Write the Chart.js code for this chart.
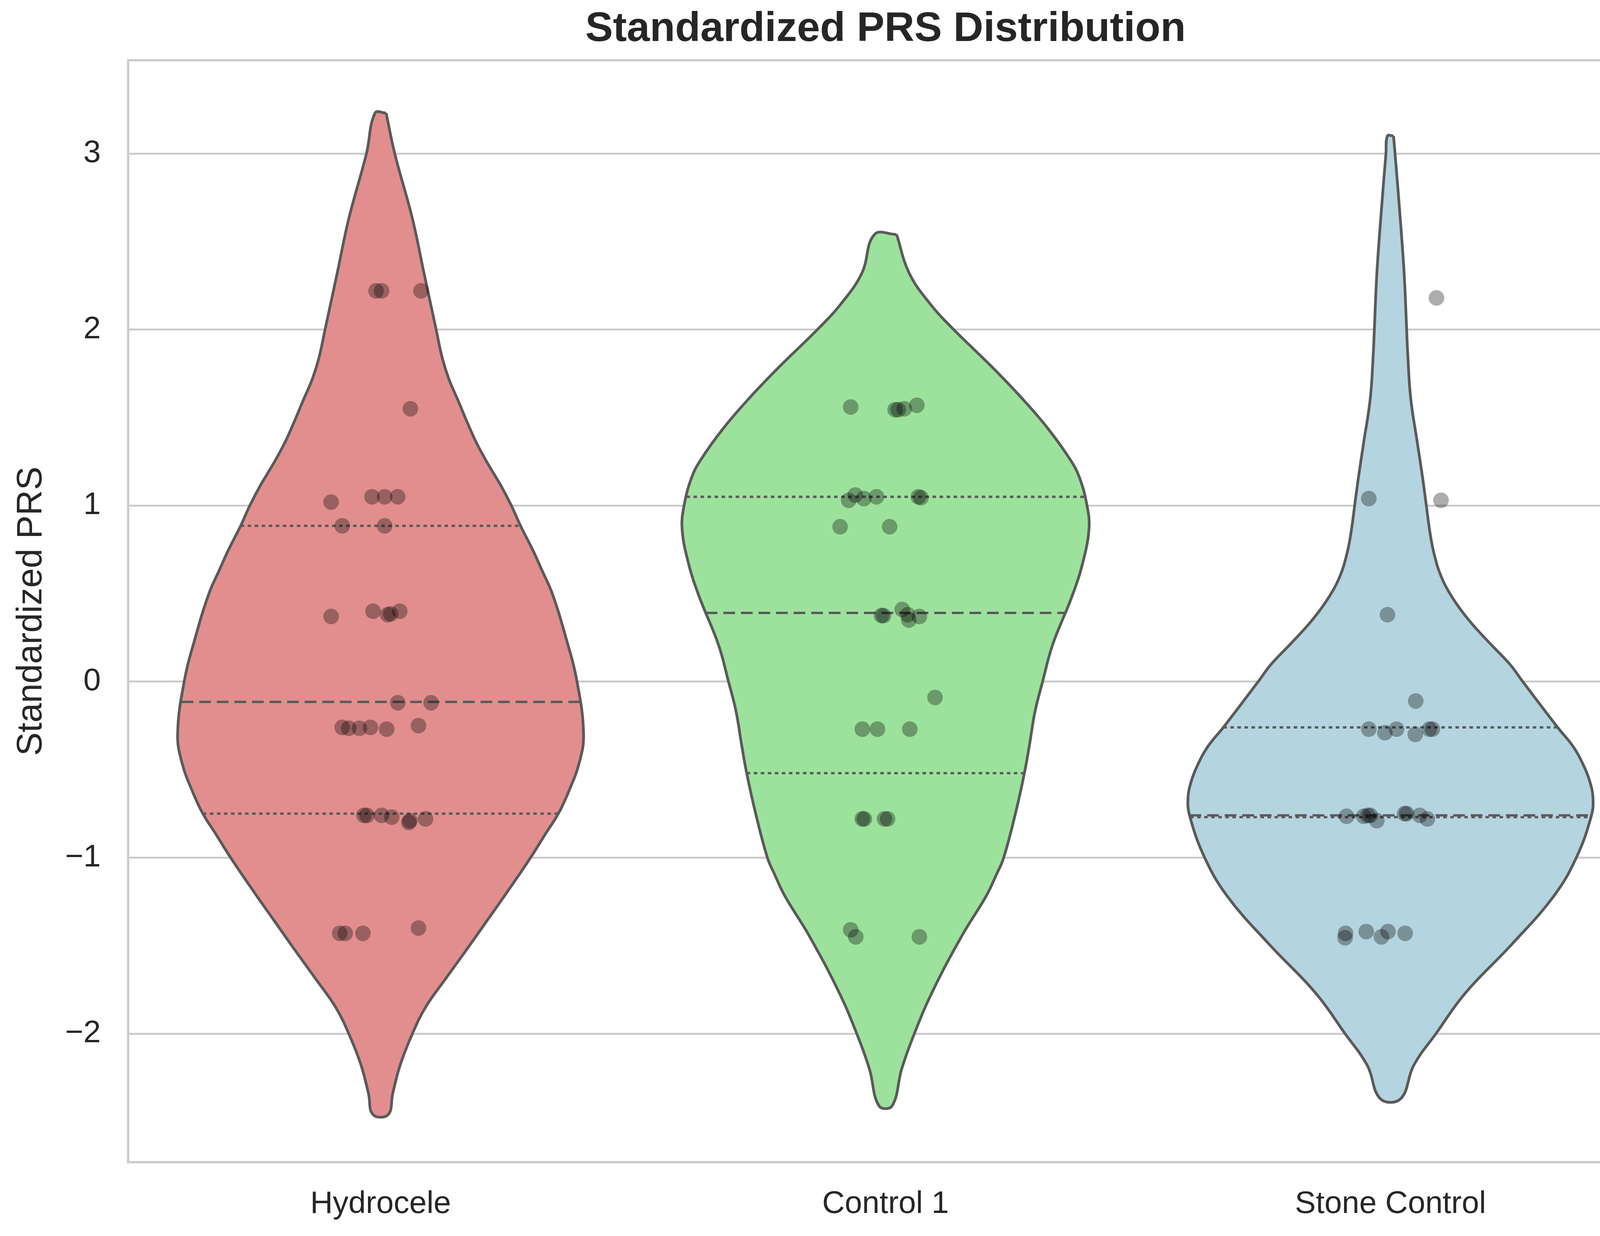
<!DOCTYPE html>
<html>
<head>
<meta charset="utf-8">
<script src="https://cdn.jsdelivr.net/npm/chart.js@4.4.1/dist/chart.umd.min.js"></script>
<style>
    html, body { margin: 0; padding: 0; background: #ffffff; }
    canvas { display: block; }
</style>
</head>
<body>
<canvas id="violinChart" width="4246" height="3164"></canvas>
<script>

// =========================================
// Data
// =========================================

const categories = ["Hydrocele", "Control 1", "Stone Control"];

const yTicks = [-2, -1, 0, 1, 2, 3];
const yTickLabels = ["\u22122", "\u22121", "0", "1", "2", "3"];

// violin outline: y level -> half width (category units)
const hydroceleLevels = [3.23, 3.0, 2.63, 2.32, 2.0, 1.84, 1.72, 1.60, 1.47, 1.35, 1.23, 1.11, 1.0, 0.88, 0.75, 0.63, 0.5, 0.25, 0.0, -0.30, -0.465, -0.628, -0.75, -0.872, -1.0, -1.198, -1.361, -1.524, -1.687, -1.85, -2.0, -2.176, -2.34, -2.46];
const hydroceleWidths = [0.011, 0.028, 0.063, 0.086, 0.110, 0.122, 0.135, 0.153, 0.172, 0.191, 0.214, 0.239, 0.259, 0.278, 0.301, 0.320, 0.340, 0.367, 0.389, 0.402, 0.393, 0.372, 0.352, 0.325, 0.297, 0.250, 0.210, 0.170, 0.129, 0.089, 0.063, 0.039, 0.024, 0.015];

const controlLevels = [2.54, 2.32, 2.14, 2.0, 1.79, 1.61, 1.44, 1.26, 1.16, 1.0, 0.87, 0.68, 0.49, 0.21, 0.0, -0.17, -0.36, -0.52, -0.74, -1.0, -1.1, -1.22, -1.44, -1.76, -2.0, -2.2, -2.41];
const controlWidths = [0.022, 0.047, 0.090, 0.135, 0.210, 0.270, 0.321, 0.366, 0.384, 0.399, 0.403, 0.391, 0.370, 0.331, 0.311, 0.296, 0.285, 0.275, 0.258, 0.234, 0.219, 0.199, 0.152, 0.093, 0.057, 0.032, 0.013];

const stoneLevels = [3.10, 3.0, 2.68, 2.32, 2.0, 1.87, 1.61, 1.36, 1.17, 1.0, 0.85, 0.73, 0.60, 0.48, 0.35, 0.22, 0.10, 0.0, -0.26, -0.37, -0.48, -0.57, -0.66, -0.76, -1.0, -1.22, -1.49, -1.77, -2.0, -2.18, -2.37];
const stoneWidths = [0.006, 0.009, 0.018, 0.027, 0.032, 0.034, 0.040, 0.053, 0.063, 0.071, 0.078, 0.086, 0.100, 0.122, 0.155, 0.196, 0.236, 0.262, 0.331, 0.362, 0.383, 0.395, 0.401, 0.398, 0.368, 0.323, 0.241, 0.148, 0.090, 0.046, 0.020];

// quartiles: Q1, median, Q3
const hydroceleQuartiles = [-0.75, -0.115, 0.885];
const controlQuartiles = [-0.52, 0.39, 1.05];
const stoneQuartiles = [-0.77, -0.76, -0.26];

// individual scores and their horizontal jitter
const hydroceleScores = [2.22, 2.22, 2.22, 1.55, 1.02, 1.05, 1.05, 1.05, 0.885, 0.885, 0.37, 0.40, 0.38, 0.385, 0.40, -0.12, -0.12, -0.26, -0.265, -0.265, -0.26, -0.27, -0.25, -0.76, -0.76, -0.76, -0.77, -0.80, -0.79, -0.78, -1.43, -1.43, -1.43, -1.40];
const hydroceleJitter = [-0.009, 0.002, 0.080, 0.059, -0.098, -0.017, 0.008, 0.034, -0.076, 0.008, -0.098, -0.015, 0.014, 0.020, 0.038, 0.034, 0.100, -0.076, -0.063, -0.042, -0.020, 0.012, 0.075, -0.033, -0.027, 0.002, 0.022, 0.056, 0.058, 0.089, -0.081, -0.070, -0.035, 0.075];

const controlScores = [1.56, 1.545, 1.545, 1.55, 1.57, 1.03, 1.06, 1.04, 1.05, 1.05, 1.045, 0.88, 0.88, 0.375, 0.375, 0.41, 0.35, 0.38, 0.37, -0.09, -0.27, -0.27, -0.27, -0.78, -0.78, -0.78, -0.78, -1.41, -1.45, -1.45];
const controlJitter = [-0.069, 0.019, 0.025, 0.037, 0.062, -0.073, -0.060, -0.043, -0.018, 0.065, 0.070, -0.090, 0.008, -0.008, -0.004, 0.033, 0.046, 0.044, 0.067, 0.098, -0.046, -0.016, 0.048, -0.046, -0.042, -0.002, 0.004, -0.069, -0.059, 0.067];

const stoneScores = [2.18, 1.04, 1.03, 0.38, -0.11, -0.27, -0.29, -0.27, -0.30, -0.27, -0.27, -0.765, -0.765, -0.76, -0.76, -0.79, -0.75, -0.75, -0.76, -0.78, -1.455, -1.43, -1.42, -1.45, -1.42, -1.43];
const stoneJitter = [0.091, -0.043, 0.100, -0.006, 0.050, -0.043, -0.011, 0.012, 0.049, 0.077, 0.083, -0.087, -0.053, -0.045, -0.040, -0.027, 0.028, 0.032, 0.058, 0.073, -0.090, -0.089, -0.048, -0.018, -0.005, 0.029];

const fillColors = ["#e28e8e", "#9ce29c", "#b4d4df"];


// =========================================
// Helpers
// =========================================

function violinOutline(center, levels, widths) {

    const left = [];
    const right = [];

    for (let i = 0; i < levels.length; i++) {
        left.push({ x: center - widths[i], y: levels[i] });
        right.push({ x: center + widths[i], y: levels[i] });
    }

    // right side top -> bottom, then left side bottom -> top
    const outline = right.concat(left.reverse());
    outline.push(outline[0]);

    return outline;

}

function widthAt(y, levels, widths) {

    for (let i = 0; i < levels.length - 1; i++) {
        if (y <= levels[i] && y >= levels[i + 1]) {
            const t = (levels[i] - y) / (levels[i] - levels[i + 1]);
            return widths[i] + t * (widths[i + 1] - widths[i]);
        }
    }

    return 0;

}

function strip(center, scores, jitter) {

    return scores.map((s, i) => ({ x: center + jitter[i], y: s }));

}


// =========================================
// Datasets
// =========================================

const groups = [
    { levels: hydroceleLevels, widths: hydroceleWidths, quartiles: hydroceleQuartiles, scores: hydroceleScores, jitter: hydroceleJitter },
    { levels: controlLevels, widths: controlWidths, quartiles: controlQuartiles, scores: controlScores, jitter: controlJitter },
    { levels: stoneLevels, widths: stoneWidths, quartiles: stoneQuartiles, scores: stoneScores, jitter: stoneJitter }
];

const datasets = [];

groups.forEach((g, idx) => {

    datasets.push({
        label: categories[idx],
        data: violinOutline(idx, g.levels, g.widths),
        borderColor: "#5a5a5a",
        borderWidth: 7,
        backgroundColor: fillColors[idx],
        fill: "shape",
        tension: 0.4,
        pointRadius: 0,
        order: 3
    });

    g.quartiles.forEach((q, qi) => {

        const hw = widthAt(q, g.levels, g.widths);

        datasets.push({
            label: categories[idx] + " quartile " + qi,
            data: [{ x: idx - hw, y: q }, { x: idx + hw, y: q }],
            borderColor: "#5a5a5a",
            borderWidth: 6,
            borderDash: qi === 1 ? [30, 15] : [9, 9],
            fill: false,
            pointRadius: 0,
            order: 2
        });

    });

    datasets.push({
        label: categories[idx] + " scores",
        data: strip(idx, g.scores, g.jitter),
        showLine: false,
        pointRadius: 20,
        pointHoverRadius: 20,
        pointBorderWidth: 0,
        pointBackgroundColor: "rgba(0, 0, 0, 0.32)",
        borderColor: "rgba(0, 0, 0, 0)",
        order: 1
    });

});


// =========================================
// Frame plugin
// =========================================

const framePlugin = {
    id: "frame",
    afterDraw(chart) {
        const { ctx, chartArea } = chart;
        ctx.save();
        ctx.strokeStyle = "#cccccc";
        ctx.lineWidth = 6;
        ctx.strokeRect(chartArea.left, chartArea.top, chartArea.right - chartArea.left, chartArea.bottom - chartArea.top);
        ctx.restore();
    }
};


// =========================================
// Chart
// =========================================

const fontFamily = "'Liberation Sans', Arial, 'DejaVu Sans', sans-serif";
const textColor = "#262626";

new Chart(document.getElementById("violinChart"), {

    type: "line",

    data: { datasets: datasets },

    options: {

        responsive: false,
        devicePixelRatio: 1,
        animation: false,

        layout: {
            padding: { left: 0, right: 40, top: 0, bottom: 0 }
        },

        plugins: {
            legend: { display: false },
            tooltip: { enabled: false },
            title: {
                display: true,
                text: "Standardized PRS Distribution",
                fullSize: false,
                color: textColor,
                font: { family: fontFamily, size: 106, weight: "bold" },
                padding: { top: 12, bottom: 15 }
            }
        },

        scales: {

            x: {
                type: "linear",
                min: -0.5,
                max: 2.5,
                afterBuildTicks: (scale) => {
                    scale.ticks = categories.map((c, i) => ({ value: i }));
                },
                afterFit: (scale) => {
                    scale.height = 189;
                },
                ticks: {
                    callback: (value) => categories[value],
                    color: textColor,
                    font: { family: fontFamily, size: 80 },
                    padding: 60,
                    maxRotation: 0
                },
                grid: { display: false, drawTicks: false },
                border: { display: false }
            },

            y: {
                type: "linear",
                min: -2.73,
                max: 3.53,
                afterBuildTicks: (scale) => {
                    scale.ticks = yTicks.map(v => ({ value: v }));
                },
                afterFit: (scale) => {
                    scale.width = 328;
                },
                ticks: {
                    callback: (value) => yTickLabels[yTicks.indexOf(value)],
                    color: textColor,
                    font: { family: fontFamily, size: 80 },
                    padding: 70
                },
                title: {
                    display: true,
                    text: "Standardized PRS",
                    color: textColor,
                    font: { family: fontFamily, size: 90 },
                    padding: { top: 27, bottom: 0 }
                },
                grid: {
                    color: "#cccccc",
                    lineWidth: 5,
                    drawTicks: false
                },
                border: { display: false }
            }

        }

    },

    plugins: [framePlugin]

});

</script>
</body>
</html>
